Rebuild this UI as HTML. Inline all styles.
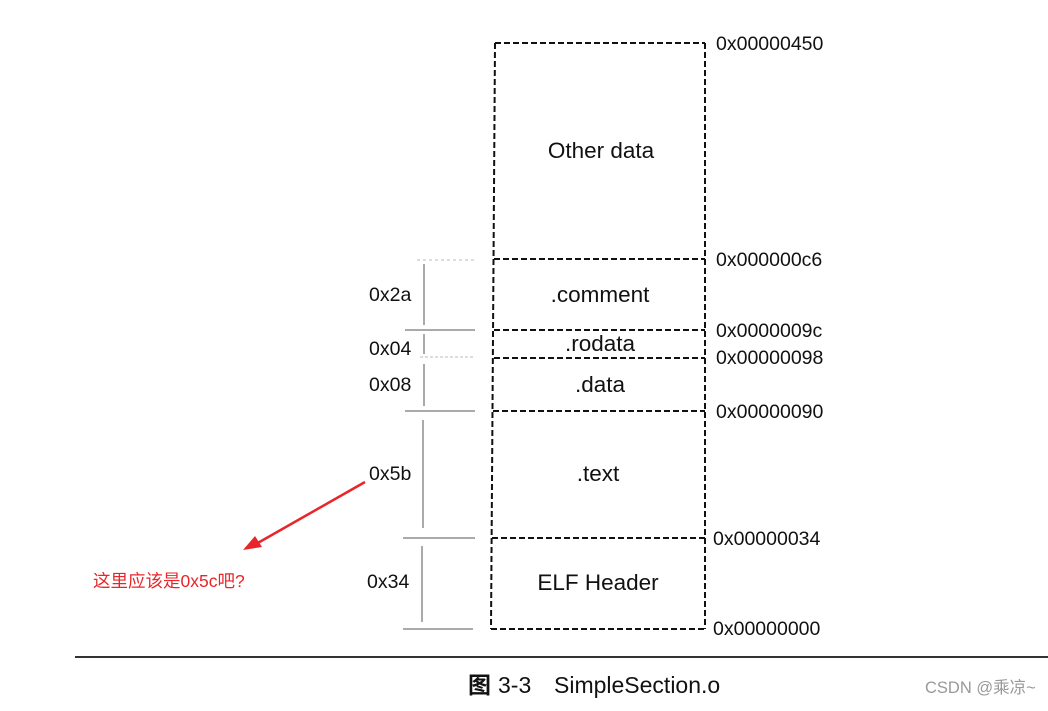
<!DOCTYPE html>
<html><head><meta charset="utf-8"><style>
body{margin:0;background:#fff}
svg text{font-family:"Liberation Sans","Noto Sans CJK SC",sans-serif}
</style></head><body>
<svg width="1048" height="706" viewBox="0 0 1048 706" xmlns="http://www.w3.org/2000/svg">
<g stroke="#111" stroke-width="2" stroke-dasharray="6,3" fill="none">
<line x1="495" y1="43" x2="705" y2="43"/>
<line x1="495" y1="43" x2="491" y2="629"/>
<line x1="705" y1="43" x2="705" y2="629"/>
<line x1="491" y1="629" x2="705" y2="629"/>
<line x1="494" y1="259" x2="705" y2="259"/>
<line x1="494" y1="330" x2="705" y2="330"/>
<line x1="494" y1="358" x2="705" y2="358"/>
<line x1="493" y1="411" x2="705" y2="411"/>
<line x1="492" y1="538" x2="705" y2="538"/>
</g>
<g stroke="#555" stroke-width="1" fill="none">
<line x1="417" y1="260" x2="475" y2="260" stroke="#bbb" stroke-dasharray="3,3"/>
<line x1="405" y1="330" x2="475" y2="330"/>
<line x1="420" y1="357" x2="475" y2="357" stroke="#bbb" stroke-dasharray="3,2"/>
<line x1="405" y1="411" x2="475" y2="411"/>
<line x1="403" y1="538" x2="475" y2="538"/>
<line x1="403" y1="629" x2="473" y2="629"/>
<line x1="424" y1="264" x2="424" y2="325"/>
<line x1="424" y1="334" x2="424" y2="354"/>
<line x1="424" y1="364" x2="424" y2="406"/>
<line x1="423" y1="420" x2="423" y2="528"/>
<line x1="422" y1="546" x2="422" y2="622"/>
</g>
<line x1="75" y1="657" x2="1048" y2="657" stroke="#333" stroke-width="2"/>
<g font-size="22.5" fill="#111" text-anchor="middle">
<text x="601" y="158">Other data</text>
<text x="600" y="302">.comment</text>
<text x="600" y="351">.rodata</text>
<text x="600" y="392">.data</text>
<text x="598" y="481">.text</text>
<text x="598" y="590">ELF Header</text>
</g>
<g font-size="19.5" fill="#111">
<text x="716" y="50">0x00000450</text>
<text x="716" y="266">0x000000c6</text>
<text x="716" y="337">0x0000009c</text>
<text x="716" y="364">0x00000098</text>
<text x="716" y="418">0x00000090</text>
<text x="713" y="545">0x00000034</text>
<text x="713" y="635">0x00000000</text>
<text x="369" y="301">0x2a</text>
<text x="369" y="355">0x04</text>
<text x="369" y="391">0x08</text>
<text x="369" y="480">0x5b</text>
<text x="367" y="588">0x34</text>
</g>
<line x1="365" y1="482" x2="256" y2="544" stroke="#e8262a" stroke-width="2.5"/>
<polygon points="243,550 255,536 262,547" fill="#e8262a"/>
<text x="93" y="587" font-size="17.5" fill="#e8262a">这里应该是0x5c吧?</text>
<text x="468" y="693" font-size="23" font-weight="bold" fill="#111">图</text>
<text x="498" y="693" font-size="23" fill="#111">3-3</text>
<text x="554" y="693" font-size="23" fill="#111">SimpleSection.o</text>
<text x="925" y="693" font-size="16.5" fill="#999">CSDN @乘凉~</text>
</svg>
</body></html>
